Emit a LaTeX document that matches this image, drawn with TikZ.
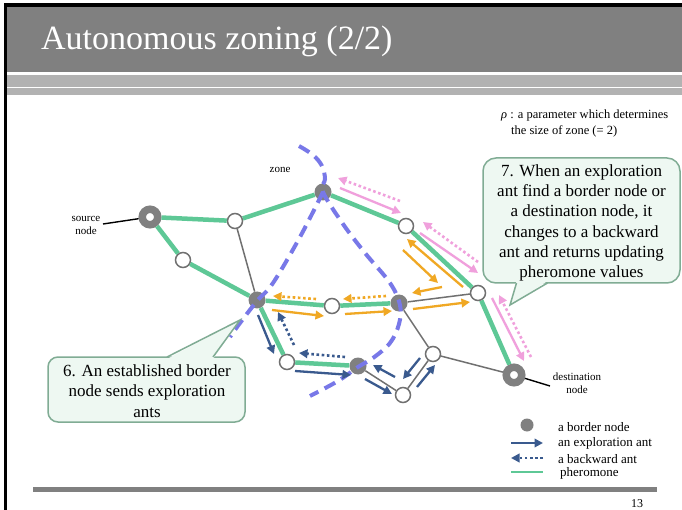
\documentclass[tikz,border=0pt]{standalone}
\usepackage{fontspec}
\setmainfont{Liberation Serif}
\usetikzlibrary{arrows.meta}
\definecolor{pher}{RGB}{94,200,150}
\definecolor{zonec}{RGB}{120,120,232}
\definecolor{antblue}{RGB}{58,90,142}
\definecolor{orng}{RGB}{240,168,36}
\definecolor{pnk}{RGB}{240,160,220}
\definecolor{nodegray}{RGB}{128,128,128}
\definecolor{edgegray}{RGB}{112,112,112}
\definecolor{cfill}{RGB}{238,248,242}
\definecolor{cline}{RGB}{128,172,148}
\definecolor{band}{RGB}{178,178,178}
\tikzset{
 wnode/.style={circle,draw=edgegray,line width=1.5pt,fill=white,minimum size=15pt,inner sep=0pt},
 bnode/.style={circle,fill=nodegray,minimum size=17pt,inner sep=0pt},
 ringnode/.style={circle,draw=nodegray,line width=7.5pt,fill=white,minimum size=15.5pt,inner sep=0pt},
 pheroline/.style={pher,line width=4.5pt},
 grayline/.style={edgegray,line width=1.5pt},
 zoneline/.style={zonec,line width=4pt,dash pattern=on 12pt off 7pt},
 solidant/.style={line width=2.3pt,-{Triangle[length=8.5pt,width=8.5pt]}},
 dotant/.style={line width=2.6pt,dash pattern=on 2.6pt off 2.6pt,-{Triangle[length=8.5pt,width=8.5pt]}},
 callout/.style={draw=cline,fill=cfill,line width=1.5pt},
 smalltxt/.style={font=\fontsize{11}{13}\selectfont,align=center,inner sep=0pt},
 legtxt/.style={font=\fontsize{13}{15}\selectfont,anchor=west,inner sep=0pt},
 bigtxt/.style={font=\fontsize{17}{20.3}\selectfont,align=center,inner sep=0pt},
}
\begin{document}
\begin{tikzpicture}[x=1pt,y=-1pt]
\useasboundingbox (0,0) rectangle (682,510);
\fill[white] (0,0) rectangle (682,510);
% frame and title
\fill[black] (3.5,3.5) rectangle (682,7);
\fill[black] (3.5,3.5) rectangle (7,510);
\fill[nodegray] (7,7) rectangle (682,72);
\fill[band] (7,75) rectangle (682,87);
\fill[band] (7,88.5) rectangle (682,95);
\node[anchor=base west,text=white,font=\fontsize{34}{40}\selectfont,inner sep=0pt] (title) at (41,50) {Autonomous zoning (2/2)};
\fill[nodegray] (33,487) rectangle (657,492);
\node[font=\fontsize{12}{14}\selectfont,inner sep=0pt] (pg) at (637,504) {13};
% parameter text
\node[anchor=base west,font=\fontsize{12.5}{15}\selectfont,inner sep=0pt] (rho1) at (501,119) {\textit{ρ} : a parameter which determines};
\node[anchor=base west,font=\fontsize{12.5}{15}\selectfont,inner sep=0pt] (rho2) at (511,135) {the size of zone (= 2)};
% nodes
\node[ringnode] (S) at (150,217) {};
\node[wnode] (A) at (235,221) {};
\node[wnode] (B) at (183,260) {};
\node[bnode] (C) at (257,300) {};
\node[bnode] (D) at (323,192) {};
\node[wnode] (E) at (406,226) {};
\node[wnode] (F) at (332,306) {};
\node[bnode] (G) at (399,303) {};
\node[wnode] (H) at (478,293) {};
\node[ringnode] (T) at (514,375) {};
\node[wnode] (I) at (287,362) {};
\node[bnode] (J) at (358,366) {};
\node[wnode] (K) at (403,395) {};
\node[wnode] (L) at (433,354) {};
% edges
\draw[grayline] (A) -- (C);
\draw[grayline] (G) -- (H);
\draw[grayline] (G) -- (L);
\draw[grayline] (L) -- (T);
\draw[grayline] (J) -- (K);
\draw[grayline] (K) -- (L);
\foreach \a/\b in {S/A,A/D,S/B,B/C,C/F,F/G,C/I,I/J,D/E,E/H,H/T}
  \draw[pheroline] (\a) -- (\b);
% labels
\node[smalltxt] (srcl) at (86,225.5) {source\\node};
\coordinate (srcp) at (103,224);
\draw[black,line width=1.4pt] (srcp) -- (S);
\node[smalltxt] (dstl) at (577,383) {destination\\node};
\coordinate (dstp) at (550,386);
\draw[black,line width=1.4pt] (T) -- (dstp);
\node[smalltxt] (zonel) at (280,170) {zone};
% zone
\draw[zoneline] plot[smooth,tension=0.6] coordinates {(299,146) (313,155) (322,166) (325,179) (323,192) (343,224) (365,253) (390,283) (400,305) (399,324) (390,343) (373,358) (358,367) (338,381) (310,396)};
\draw[zoneline] plot[smooth,tension=0.6] coordinates {(323,192) (300,237) (273,283) (257,301) (240,323) (230,337)};
% pink ants
\draw[pnk,solidant] (340,188) -- (401,213);
\draw[pnk,dotant] (400,201) -- (338,178);
\draw[pnk,solidant] (420,233) -- (478,273);
\draw[pnk,dotant] (478,262) -- (423,222);
\draw[pnk,solidant] (492,298) -- (524,361);
\draw[pnk,dotant] (531,357) -- (499,295);
% orange ants
\draw[orng,solidant] (403,250) -- (438,283);
\draw[orng,solidant] (463,287) -- (407,239);
\draw[orng,solidant] (442,287) -- (412,293);
\draw[orng,solidant] (413,309) -- (470,302);
\draw[orng,dotant] (386,296) -- (343,299);
\draw[orng,solidant] (345,314) -- (392,311);
\draw[orng,dotant] (316,299) -- (273,296);
\draw[orng,solidant] (272,310) -- (324,316);
% blue ants
\draw[antblue,solidant] (258,315) -- (274,354);
\draw[antblue,dotant] (294,345) -- (278,312);
\draw[antblue,dotant] (345,357) -- (299,353);
\draw[antblue,solidant] (295,371) -- (351,375);
\draw[antblue,solidant] (365,379) -- (392,394);
\draw[antblue,solidant] (395,377) -- (373,365);
\draw[antblue,solidant] (420,358) -- (403,379);
\draw[antblue,solidant] (417,387) -- (435,365);
% callout 7
\draw[callout,rounded corners=13pt] (483,158) rectangle (680,283);
\fill[cfill] (510,305) -- (516.5,281) -- (547.5,281) -- cycle;
\draw[cline,line width=1.5pt,line join=miter] (516.5,283) -- (510,305) -- (547.5,283);
\node[bigtxt] (c7) at (581.5,223) {7. When an exploration\\ant find a border node or\\a destination node, it\\changes to a backward\\ant and returns updating\\pheromone values};
% callout 6
\draw[callout,rounded corners=10pt] (48,357) rectangle (245,422);
\fill[cfill] (240,320) -- (167,359) -- (213,359) -- cycle;
\draw[cline,line width=1.5pt,line join=miter] (167,357) -- (240,320) -- (213,357);
\node[bigtxt] (c6) at (147,391) {6. An established border\\node sends exploration\\ants};
% legend
\node[circle,fill=nodegray,minimum size=13pt,inner sep=0pt] (lgb) at (527,425) {};
\coordinate (la1) at (511,443); \coordinate (la2) at (543,443);
\draw[antblue,solidant] (la1) -- (la2);
\coordinate (lb1) at (543,458); \coordinate (lb2) at (511,458);
\draw[antblue,dotant] (lb1) -- (lb2);
\coordinate (lc1) at (511,472); \coordinate (lc2) at (543,472);
\draw[pher,line width=2.5pt] (lc1) -- (lc2);
\node[legtxt] (lt1) at (558,427) {a border node};
\node[legtxt] (lt2) at (558,443) {an exploration ant};
\node[legtxt] (lt3) at (558,459) {a backward ant};
\node[legtxt] (lt4) at (560,473.5) {pheromone};
\end{tikzpicture}
\end{document}
